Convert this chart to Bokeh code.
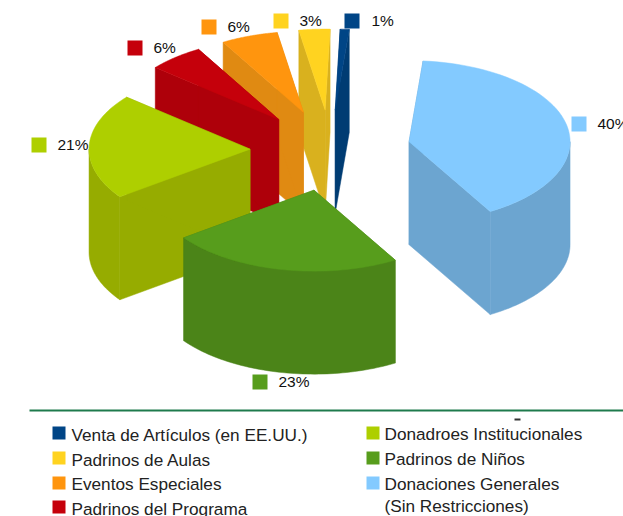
import numpy as np
from bokeh.plotting import figure
from bokeh.models import Range1d
from bokeh.core.properties import value
from bokeh.embed import file_html
from bokeh.resources import INLINE

# ---- data (clockwise from the top of the pie); shares ----
categories = ["Venta de Artículos (en EE.UU.)", "Padrinos de Aulas", "Eventos Especiales",
              "Padrinos del Programa", "Donadroes Institucionales", "Padrinos de Niños",
              "Donaciones Generales"]
values = [0.9, 3.1, 5.7, 5.6, 21.1, 23.4, 40.2]
percent_labels = ["1%", "3%", "6%", "6%", "21%", "23%", "40%"]
extra_legend_line = "(Sin Restricciones)"

# ---- style ----
top_colors = ["#004586", "#FFD320", "#FF950E", "#C5000B", "#AECF00", "#579D1C", "#83CAFF"]
side_colors = ["#003C73", "#D9B11E", "#E08A12", "#AE000A", "#96AC00", "#4B8418", "#6CA5D0"]
FONT = "Liberation Sans"
W, H = 623, 516
CX, CY, RX, RY, DEPTH, EXPLODE = 330, 150, 161, 81, 103, 0.5
START_DEG = 85
TEXT_SHIFT = -7

# label layout: swatch left/top, text left/baseline
label_swatch = [(344, 13), (273, 13), (201, 19), (127, 40), (31, 137), (252, 374), (571, 116)]
label_text = [(371, 27), (299, 27), (227, 33), (153, 54), (57, 151), (278, 388), (597, 130)]
legend_swatch = [(52, 426), (52, 451), (52, 476), (52, 500), (366, 426), (366, 451), (366, 476)]
legend_text = [(71, 441), (71, 466), (71, 490), (71, 515), (384, 440), (384, 465), (384, 490)]

p = figure(width=W, height=H, x_range=Range1d(0, W), y_range=Range1d(H, 0),
           output_backend="svg", toolbar_location=None, min_border=0,
           outline_line_color=None, background_fill_color="white", border_fill_color="white")
p.axis.visible = False
p.grid.visible = False

# blue's start is at 85 deg going clockwise; the other slices follow, wrapping round to navy
total = sum(values)
order = [6, 5, 4, 3, 2, 1, 0]
ang = START_DEG
slices = {}
for i in order:
    sweep = 360 * values[i] / total
    slices[i] = (ang, ang - sweep)
    ang -= sweep


def px(cx, a):
    return cx + RX * np.cos(np.radians(a))


def py(cy, a):
    return cy - RY * np.sin(np.radians(a))


entries = []
for i, (a0, a1) in slices.items():
    mid = (a0 + a1) / 2
    cx = CX + EXPLODE * RX * np.cos(np.radians(mid))
    cy = CY - EXPLODE * RY * np.sin(np.radians(mid))
    entries.append((cy, i, cx))

for cy, i, cx in sorted(entries):
    a0, a1 = slices[i]
    th = np.linspace(a0, a1, 60)
    ax, ay = px(cx, th), py(cy, th)
    walls_x = [[cx, cx, ax[0], ax[0]], [cx, cx, ax[-1], ax[-1]]]
    walls_y = [[cy, cy + DEPTH, ay[0] + DEPTH, ay[0]], [cy, cy + DEPTH, ay[-1] + DEPTH, ay[-1]]]
    hi, lo = min(a0, 0), max(a1, -180)
    if lo < hi:
        f = np.linspace(hi, lo, 60)
        fx, fy = px(cx, f), py(cy, f)
        walls_x.append(list(fx) + list(fx[::-1]))
        walls_y.append(list(fy) + list((fy + DEPTH)[::-1]))
    p.patches(walls_x, walls_y, fill_color=side_colors[i], line_color=side_colors[i], line_width=0.5)
    p.patch([cx] + list(ax), [cy] + list(ay), fill_color=top_colors[i], line_color=top_colors[i], line_width=0.5)

# percent labels with swatches
for i in range(len(values)):
    sx, sy = label_swatch[i]
    p.quad(left=sx, right=sx + 15, top=sy, bottom=sy + 15, fill_color=top_colors[i], line_color=None)
    tx, ty = label_text[i]
    p.text([tx], [ty + TEXT_SHIFT], text=[percent_labels[i]], text_font=value(FONT), text_font_size="15.5px",
           text_color="#111111", text_baseline="alphabetic", text_align="left")

# separator and the stray fragment beneath it
p.line([29, W], [410, 410], line_color="#1E7A4C", line_width=2)
p.line([514, 520], [419, 419], line_color="#333333", line_width=2)

# legend
for i in range(len(categories)):
    sx, sy = legend_swatch[i]
    p.quad(left=sx, right=sx + 13, top=sy, bottom=sy + 13, fill_color=top_colors[i], line_color=None)
    tx, ty = legend_text[i]
    p.text([tx], [ty + TEXT_SHIFT], text=[categories[i]], text_font=value(FONT), text_font_size="17.2px",
           text_color="#222222", text_baseline="alphabetic", text_align="left")
p.text([384], [512 + TEXT_SHIFT], text=[extra_legend_line], text_font=value(FONT), text_font_size="17.2px",
       text_color="#222222", text_baseline="alphabetic", text_align="left")

open("out.html", "w").write(file_html(p, INLINE))
